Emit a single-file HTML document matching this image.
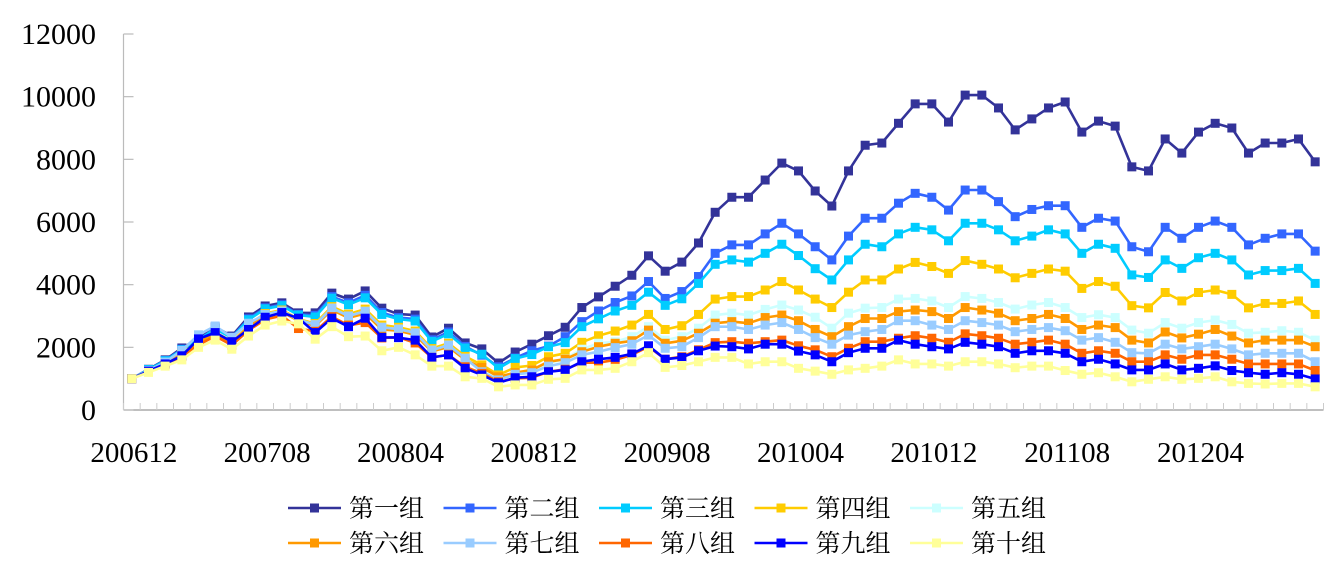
<!DOCTYPE html>
<html><head><meta charset="utf-8"><style>
html,body{margin:0;padding:0;background:#fff;}
svg{display:block;}
</style></head><body>
<svg id="chart" width="1338" height="570" xmlns="http://www.w3.org/2000/svg"></svg>
<script>
const categories = (function(){const a=[];let y=2006,m=12;for(let i=0;i<72;i++){a.push(String(y)+(m<10?'0':'')+m);m++;if(m>12){m=1;y++;}}return a;})();
const xTickLabels = ["200612","200708","200804","200812","200908","201004","201012","201108","201204"];
const yTicks = [0,2000,4000,6000,8000,10000,12000];
const seriesNames = ["第一组","第二组","第三组","第四组","第五组","第六组","第七组","第八组","第九组","第十组"];
const seriesColors = ["#333399","#3366ff","#00ccff","#ffcc00","#ccffff","#ff9900","#99ccff","#ff6600","#0000ff","#ffff99"];
const s1 = [1000,1300,1600,1980,2270,2650,2360,2970,3320,3420,3100,3100,3730,3540,3800,3250,3060,3030,2330,2610,2140,1950,1500,1850,2100,2370,2640,3270,3610,3950,4300,4920,4430,4720,5330,6310,6790,6790,7340,7880,7630,6990,6510,7630,8450,8520,9150,9770,9770,9190,10050,10050,9640,8940,9290,9640,9830,8870,9220,9060,7760,7630,8650,8200,8870,9150,9000,8200,8520,8520,8650,7920];
const s2 = [1000,1290,1580,1940,2240,2610,2320,2910,3260,3360,3050,3020,3620,3420,3660,3110,2950,2900,2240,2490,2030,1750,1380,1660,1890,2040,2340,2820,3160,3430,3640,4100,3560,3780,4260,5000,5270,5270,5620,5960,5620,5210,4790,5550,6120,6120,6600,6915,6790,6380,7020,7020,6650,6170,6400,6520,6520,5830,6120,6030,5210,5050,5830,5480,5830,6030,5830,5270,5480,5620,5620,5070];
const s3 = [1000,1290,1570,1920,2230,2590,2300,2880,3230,3330,3030,2970,3570,3360,3580,3050,2900,2840,2190,2430,1980,1780,1330,1640,1770,2020,2150,2660,2910,3160,3340,3760,3340,3550,4040,4650,4790,4720,5000,5290,4930,4510,4150,4790,5290,5210,5620,5830,5750,5400,5960,5960,5750,5400,5550,5750,5620,5000,5290,5160,4310,4230,4790,4520,4860,5000,4790,4310,4450,4450,4520,4040];
const s4 = [1000,1260,1520,1830,2160,2480,2190,2730,3080,3190,2900,2760,3300,3060,3220,2710,2640,2520,1960,2130,1710,1440,1120,1360,1420,1700,1810,2160,2370,2520,2710,3050,2570,2690,3050,3540,3620,3620,3830,4100,3830,3540,3270,3760,4150,4150,4500,4710,4580,4360,4770,4650,4500,4220,4360,4500,4430,3880,4100,3950,3330,3260,3750,3480,3750,3830,3690,3260,3400,3400,3480,3050];
const s5 = [1000,1260,1510,1810,2150,2460,2170,2700,3050,3160,2880,2720,3250,3000,3150,2640,2580,2460,1910,2070,1650,1280,1010,1170,1280,1490,1630,1940,2130,2180,2340,2660,2230,2340,2610,3030,3090,3030,3210,3350,3190,2960,2610,3090,3250,3270,3540,3560,3480,3270,3620,3560,3430,3220,3350,3430,3270,2950,3040,2950,2550,2450,2790,2610,2790,2870,2730,2450,2480,2530,2480,2230];
const s6 = [1000,1250,1500,1790,2140,2440,2150,2670,3020,3130,2850,2680,3200,2940,3080,2570,2530,2400,1870,2010,1600,1360,1060,1190,1280,1540,1620,1860,2020,2130,2210,2550,2130,2210,2450,2770,2820,2770,2950,3030,2850,2570,2340,2660,2920,2920,3140,3190,3140,2920,3270,3190,3090,2850,2920,3050,2920,2570,2710,2630,2230,2140,2490,2300,2420,2570,2360,2140,2230,2230,2230,2020];
const s7 = [1000,1260,1530,1900,2400,2680,2320,2770,3050,3160,2880,2720,3250,3000,3150,2640,2580,2460,1910,2070,1650,1220,960,1140,1190,1400,1510,1760,1860,1990,2100,2390,1970,2020,2310,2660,2660,2570,2710,2790,2570,2310,2100,2390,2500,2570,2850,2850,2710,2570,2850,2790,2710,2500,2570,2630,2530,2230,2310,2160,1830,1810,2100,1950,2020,2100,1950,1760,1810,1810,1810,1540];
const s8 = [1000,1230,1460,1710,2080,2360,2070,2540,2890,3010,2600,2510,2980,2700,2790,2300,2320,2140,1680,1760,1380,1170,900,1010,1030,1220,1300,1510,1510,1600,1760,2020,1620,1700,1920,2150,2180,2130,2180,2230,2050,1920,1700,1970,2180,2180,2290,2370,2290,2160,2430,2370,2290,2100,2160,2230,2100,1810,1890,1810,1540,1540,1760,1620,1760,1760,1620,1470,1470,1470,1470,1260];
const s9 = [1000,1240,1470,1730,2270,2470,2180,2570,2960,3110,2930,2470,2930,2660,2930,2320,2310,2230,1680,1760,1330,1120,870,1030,1060,1220,1280,1540,1620,1680,1790,2050,1620,1680,1890,2040,2020,1950,2100,2100,1880,1760,1540,1830,1970,1970,2230,2100,2020,1950,2160,2100,2020,1810,1890,1890,1810,1540,1620,1470,1280,1280,1470,1280,1330,1410,1260,1190,1140,1190,1140,990];
const s10 = [1000,1200,1400,1600,2000,2230,1940,2360,2710,2840,2750,2260,2660,2340,2360,1890,2000,1760,1400,1400,1060,1010,740,800,800,980,1010,1280,1280,1330,1540,1830,1360,1420,1540,1680,1680,1470,1540,1540,1330,1240,1140,1280,1330,1400,1600,1470,1470,1400,1540,1540,1470,1350,1400,1400,1260,1140,1190,1060,900,980,1060,980,1010,1060,900,850,830,850,850,740];
const seriesData = [s1,s2,s3,s4,s5,s6,s7,s8,s9,s10];

const NS="http://www.w3.org/2000/svg";
const svg=document.getElementById('chart');
const X0=123.5, X1=1323.5, Y0=410, Y1=34, YMAX=12000;
const n=categories.length, step=(X1-X0)/n;
function xPos(i){return X0+step*(i+0.5);}
function yPos(v){return Y0-(v/YMAX)*(Y0-Y1);}
function mk(tag,attrs,parent){const e=document.createElementNS(NS,tag);for(const k in attrs)e.setAttribute(k,attrs[k]);(parent||svg).appendChild(e);return e;}

const axes=mk('g',{});


const yaxis=mk('line',{x1:X0,y1:Y1,x2:X0,y2:Y0,stroke:'#bbbbbb','stroke-width':1.2},axes);


const xaxis=mk('line',{x1:X0,y1:Y0,x2:X1,y2:Y0,stroke:'#999999','stroke-width':1.2},axes);


yTicks.forEach(v=>{
  const y=yPos(v);
  mk('line',{x1:X0,y1:y,x2:X0+10,y2:y,stroke:'#bbbbbb','stroke-width':1.2},axes);
  const t=mk('text',{x:96,y:y+10,'text-anchor':'end','font-family':'Liberation Serif, serif','font-size':30,fill:'#000'},axes);
  t.textContent=String(v);
  
  
});
for(let k=0;k<=n;k++){
  const x=X0+step*k;
  mk('line',{x1:x,y1:Y0-7,x2:x,y2:Y0,stroke:'#cccccc','stroke-width':1},axes);
}
xTickLabels.forEach(lbl=>{
  const i=categories.indexOf(lbl);
  const t=mk('text',{x:xPos(i)+2,y:462,'text-anchor':'middle','font-family':'Liberation Serif, serif','font-size':29,fill:'#000'},axes);
  t.textContent=lbl;
  
  
});

seriesData.forEach((data,si)=>{
  const g=mk('g',{});
  
  
  const pts=data.map((v,i)=>xPos(i).toFixed(1)+','+yPos(v).toFixed(1)).join(' ');
  const pl=mk('polyline',{points:pts,fill:'none',stroke:seriesColors[si],'stroke-width':2.6,'stroke-linejoin':'round'},g);
  
  
  data.forEach((v,i)=>{
    const r=mk('rect',{x:xPos(i)-4.5,y:yPos(v)-4.5,width:9,height:9,fill:seriesColors[si]},g);
    
    
  });
});

const legend=mk('g',{});


seriesNames.forEach((name,si)=>{
  const col=si%5, row=Math.floor(si/5);
  const lx=288+col*155.5, ly=508+row*35;
  const eg=mk('g',{},legend);
  
  
  mk('line',{x1:lx,y1:ly,x2:lx+53,y2:ly,stroke:seriesColors[si],'stroke-width':2.6},eg);
  mk('rect',{x:lx+22,y:ly-4.5,width:9,height:9,fill:seriesColors[si]},eg);
  const t=mk('text',{x:lx+61,y:ly+9,'font-family':'Liberation Serif, Noto Serif CJK SC, serif','font-size':25,fill:'#000'},eg);
  t.textContent=name;
  
  
});
</script>
</body></html>
